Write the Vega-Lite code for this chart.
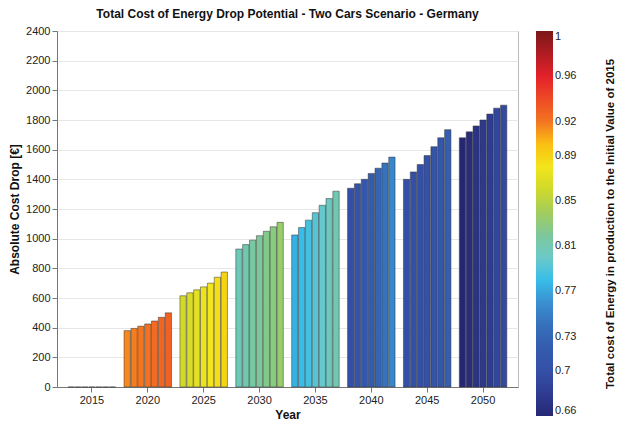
{
  "$schema": "https://vega.github.io/schema/vega-lite/v6.json",
  "width": 623,
  "height": 426,
  "autosize": {"type": "fit", "contains": "padding"},
  "padding": {"left": 8, "right": 6, "top": 8, "bottom": 6},
  "background": "white",
  "config": {
    "font": "Liberation Sans",
    "view": {"stroke": "#bbbbbb"},
    "axis": {"labelFontSize": 11, "titleFontSize": 12, "titleFontWeight": "bold", "labelColor": "#222", "titleColor": "#111", "gridColor": "#e6e6e6", "domainColor": "#777", "tickColor": "#777"}
  },
  "title": {"text": "Total Cost of Energy Drop Potential - Two Cars Scenario - Germany", "fontSize": 12, "fontWeight": "bold", "color": "#111", "anchor": "middle"},
  "data": {"values": [
    {"Year": 2015, "TES": 200, "Drop": 0, "Ratio": 1.0},
    {"Year": 2015, "TES": 400, "Drop": 0, "Ratio": 1.0},
    {"Year": 2015, "TES": 600, "Drop": 0, "Ratio": 1.0},
    {"Year": 2015, "TES": 800, "Drop": 0, "Ratio": 1.0},
    {"Year": 2015, "TES": 1000, "Drop": 0, "Ratio": 1.0},
    {"Year": 2015, "TES": 1200, "Drop": 0, "Ratio": 1.0},
    {"Year": 2015, "TES": 1400, "Drop": 0, "Ratio": 1.0},
    {"Year": 2020, "TES": 200, "Drop": 380, "Ratio": 0.915},
    {"Year": 2020, "TES": 400, "Drop": 395, "Ratio": 0.918},
    {"Year": 2020, "TES": 600, "Drop": 410, "Ratio": 0.92},
    {"Year": 2020, "TES": 800, "Drop": 425, "Ratio": 0.922},
    {"Year": 2020, "TES": 1000, "Drop": 445, "Ratio": 0.925},
    {"Year": 2020, "TES": 1200, "Drop": 470, "Ratio": 0.928},
    {"Year": 2020, "TES": 1400, "Drop": 500, "Ratio": 0.93},
    {"Year": 2025, "TES": 200, "Drop": 615, "Ratio": 0.862},
    {"Year": 2025, "TES": 400, "Drop": 635, "Ratio": 0.866},
    {"Year": 2025, "TES": 600, "Drop": 655, "Ratio": 0.872},
    {"Year": 2025, "TES": 800, "Drop": 675, "Ratio": 0.876},
    {"Year": 2025, "TES": 1000, "Drop": 700, "Ratio": 0.88},
    {"Year": 2025, "TES": 1200, "Drop": 740, "Ratio": 0.884},
    {"Year": 2025, "TES": 1400, "Drop": 775, "Ratio": 0.889},
    {"Year": 2030, "TES": 200, "Drop": 930, "Ratio": 0.808},
    {"Year": 2030, "TES": 400, "Drop": 960, "Ratio": 0.812},
    {"Year": 2030, "TES": 600, "Drop": 990, "Ratio": 0.817},
    {"Year": 2030, "TES": 800, "Drop": 1020, "Ratio": 0.821},
    {"Year": 2030, "TES": 1000, "Drop": 1050, "Ratio": 0.826},
    {"Year": 2030, "TES": 1200, "Drop": 1080, "Ratio": 0.83},
    {"Year": 2030, "TES": 1400, "Drop": 1110, "Ratio": 0.836},
    {"Year": 2035, "TES": 200, "Drop": 1025, "Ratio": 0.775},
    {"Year": 2035, "TES": 400, "Drop": 1075, "Ratio": 0.78},
    {"Year": 2035, "TES": 600, "Drop": 1125, "Ratio": 0.786},
    {"Year": 2035, "TES": 800, "Drop": 1175, "Ratio": 0.792},
    {"Year": 2035, "TES": 1000, "Drop": 1225, "Ratio": 0.798},
    {"Year": 2035, "TES": 1200, "Drop": 1270, "Ratio": 0.804},
    {"Year": 2035, "TES": 1400, "Drop": 1320, "Ratio": 0.81},
    {"Year": 2040, "TES": 200, "Drop": 1340, "Ratio": 0.7},
    {"Year": 2040, "TES": 400, "Drop": 1370, "Ratio": 0.706},
    {"Year": 2040, "TES": 600, "Drop": 1400, "Ratio": 0.712},
    {"Year": 2040, "TES": 800, "Drop": 1440, "Ratio": 0.72},
    {"Year": 2040, "TES": 1000, "Drop": 1475, "Ratio": 0.73},
    {"Year": 2040, "TES": 1200, "Drop": 1510, "Ratio": 0.742},
    {"Year": 2040, "TES": 1400, "Drop": 1550, "Ratio": 0.755},
    {"Year": 2045, "TES": 200, "Drop": 1400, "Ratio": 0.7},
    {"Year": 2045, "TES": 400, "Drop": 1450, "Ratio": 0.7},
    {"Year": 2045, "TES": 600, "Drop": 1500, "Ratio": 0.7},
    {"Year": 2045, "TES": 800, "Drop": 1560, "Ratio": 0.702},
    {"Year": 2045, "TES": 1000, "Drop": 1620, "Ratio": 0.706},
    {"Year": 2045, "TES": 1200, "Drop": 1680, "Ratio": 0.712},
    {"Year": 2045, "TES": 1400, "Drop": 1735, "Ratio": 0.722},
    {"Year": 2050, "TES": 200, "Drop": 1680, "Ratio": 0.66},
    {"Year": 2050, "TES": 400, "Drop": 1720, "Ratio": 0.665},
    {"Year": 2050, "TES": 600, "Drop": 1760, "Ratio": 0.672},
    {"Year": 2050, "TES": 800, "Drop": 1800, "Ratio": 0.677},
    {"Year": 2050, "TES": 1000, "Drop": 1840, "Ratio": 0.68},
    {"Year": 2050, "TES": 1200, "Drop": 1880, "Ratio": 0.69},
    {"Year": 2050, "TES": 1400, "Drop": 1900, "Ratio": 0.695}
  ]},
  "mark": {"type": "bar", "stroke": "#333333", "strokeWidth": 0.5},
  "encoding": {
    "x": {"field": "Year", "type": "ordinal", "scale": {"paddingInner": 0.15}, "axis": {"title": "Year", "labelAngle": 0, "grid": false}},
    "xOffset": {"field": "TES", "type": "ordinal", "sort": [200, 400, 600, 800, 1000, 1200, 1400], "scale": {"paddingInner": 0.08}},
    "y": {"field": "Drop", "type": "quantitative", "scale": {"domain": [0, 2400]}, "axis": {"title": "Absolute Cost Drop [€]", "format": "d", "values": [0, 200, 400, 600, 800, 1000, 1200, 1400, 1600, 1800, 2000, 2200, 2400]}},
    "color": {
      "field": "Ratio", "type": "quantitative",
      "scale": {"domain": [0.66, 1.0], "range": ["#262773", "#2e3c92", "#3450a6", "#345cae", "#3670bb", "#3a8fd0", "#38bde9", "#6cc9c8", "#7dc79a", "#a3cd5c", "#cfd92a", "#f2e51c", "#fbbf12", "#f37522", "#ed4a25", "#e3212a", "#b01c22", "#7a1717"]},
      "legend": {
        "orient": "right", "direction": "vertical",
        "gradientLength": 385, "gradientThickness": 17,
        "values": [0.66, 0.7, 0.73, 0.77, 0.81, 0.85, 0.89, 0.92, 0.96, 1.0],
        "format": ".2~f",
        "labelFontSize": 11, "labelColor": "#222",
        "title": "Total cost of Energy in production to the Initial Value of 2015",
        "titleOrient": "right", "titleAnchor": "middle", "titleBaseline": "bottom",
        "titlePadding": 40,
        "titleFontSize": 11.5, "titleFontWeight": "bold", "titleColor": "#111", "titleLimit": 420,
        "encode": {"title": {"update": {"angle": {"value": 270}}}}
      },
      "title": "Total cost of Energy in production to the Initial Value of 2015"
    },
    "tooltip": [{"field": "Year"}, {"field": "TES", "title": "TES Size [Litre]"}, {"field": "Drop"}, {"field": "Ratio"}]
  }
}
